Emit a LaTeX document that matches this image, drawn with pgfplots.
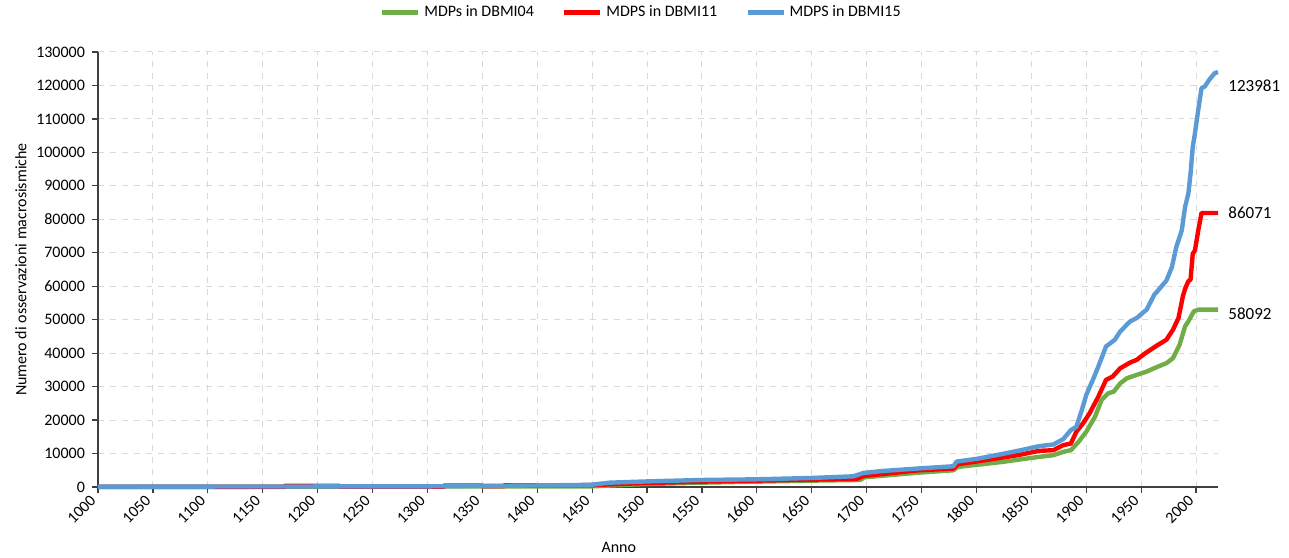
\documentclass[border=0pt]{standalone}
\usepackage{pgfplots}
\pgfplotsset{compat=1.18}
\usepackage{fontspec}
\setmainfont{Carlito}
\definecolor{cgreen}{HTML}{70AD47}
\definecolor{cred}{HTML}{FF0000}
\definecolor{cblue}{HTML}{5B9BD5}
\definecolor{cgrid}{HTML}{D9D9D9}
\definecolor{caxis}{HTML}{404040}
\begin{document}
\begin{tikzpicture}
\begin{axis}[
  scale only axis,
  width=560pt, height=217.5pt,
  xmin=1000, xmax=2020, ymin=0, ymax=130000,
  xtick={1000,1050,...,2000},
  ytick={0,10000,...,130000},
  scaled x ticks=false,
  scaled y ticks=false,
  axis lines*=left,
  axis line style={caxis, line width=0.8pt},
  tick align=outside, tick pos=left,
  major tick length=3pt,
  tick style={caxis, line width=0.6pt},
  grid=major,
  major grid style={cgrid, dashed, line width=0.5pt},
  font=\fontsize{8}{9}\selectfont,
  /pgf/number format/.cd, fixed, precision=0, 1000 sep={}, assume math mode=true,
  /pgfplots/.cd,
  xticklabel style={rotate=45, anchor=east, font=\fontsize{8}{9}\selectfont},
  yticklabel style={font=\fontsize{8}{9}\selectfont},
  xlabel={Anno},
  ylabel={Numero di osservazioni macrosismiche},
  xlabel style={at={(rel axis cs:0.465,0)}, anchor=north, yshift=-24pt},
  ylabel style={yshift=-2pt},
  legend style={at={(rel axis cs:0.486,1)}, anchor=south, yshift=12pt, draw=none, legend columns=3, font=\fontsize{8}{9}\selectfont, /tikz/every even column/.append style={column sep=12pt}},
  legend image code/.code={\draw[#1, line width=2.2pt] (0pt,0pt) -- (18pt,0pt);},
  clip=false,
]
\addplot[cgreen, line width=2.2pt, line join=round] coordinates {
(1000,0) (1450,200) (1500,900) (1550,1300) (1600,1600) (1650,1900)
(1694,2100) (1698,2900) (1748,4300) (1779,5000) (1783,6000) (1824,7500)
(1839,8200) (1857,9000) (1870,9500) (1879,10500) (1886,11000) (1893,13500)
(1900,16500) (1908,21000) (1914,26000) (1920,28000) (1925,28500) (1931,31000)
(1937,32500) (1946,33500) (1955,34500) (1964,35800) (1973,37000) (1979,38500)
(1985,42500) (1990,48000) (1993,49500) (1998,52500) (2002,53000) (2020,53000)
};
\addlegendentry{MDPs in DBMI04}
\addplot[cred, line width=2.2pt, line join=round] coordinates {
(1000,50) (1170,50) (1170,350) (1220,350) (1220,100) (1315,100) (1315,400)
(1350,400) (1350,250) (1370,250) (1370,500) (1400,500) (1450,550)
(1460,700) (1500,1200) (1550,1600) (1600,1900) (1650,2200) (1691,2400)
(1697,3300) (1748,5000) (1779,5500) (1783,6800) (1824,8800) (1839,9600)
(1857,10800) (1870,11000) (1879,12500) (1886,13000) (1891,16500) (1897,19000)
(1903,22000) (1911,27000) (1918,32000) (1924,33000) (1931,35500) (1940,37200)
(1946,38000) (1953,39800) (1964,42200) (1973,44000) (1979,47000) (1984,50500)
(1988,57000) (1990,59200) (1993,61500) (1995,62000) (1997,69700) (1999,70700)
(2002,76700) (2005,81900) (2020,81900)
};
\addlegendentry{MDPS in DBMI11}
\addplot[cblue, line width=2.2pt, line join=round] coordinates {
(1000,100) (1300,200) (1380,400) (1440,600) (1450,700) (1466,1300) (1503,1700)
(1550,2100) (1600,2300) (1650,2700) (1688,3200) (1697,4200) (1715,4800)
(1750,5600) (1779,6200) (1782,7600) (1800,8400) (1824,9900) (1839,10900)
(1857,12200) (1870,12700) (1879,14300) (1886,17000) (1891,18000) (1896,23000)
(1900,27500) (1906,32000) (1911,36000) (1918,42000) (1926,44000) (1931,46500)
(1940,49500) (1946,50500) (1952,52200) (1955,53000) (1962,57500) (1964,58200)
(1973,61700) (1978,65700) (1982,71700) (1987,76700) (1990,83700) (1993,87700)
(1995,93700) (1997,101700) (1999,105700) (2002,112700) (2005,119200) (2008,119700)
(2012,121700) (2017,123700) (2020,124000)
};
\addlegendentry{MDPS in DBMI15}
\node[anchor=west, font=\fontsize{8.5}{10}\selectfont, inner sep=0pt] at (axis cs:2020,120000) {\hspace{5pt}123981};
\node[anchor=west, font=\fontsize{8.5}{10}\selectfont, inner sep=0pt] at (axis cs:2020,81900) {\hspace{5pt}86071};
\node[anchor=west, font=\fontsize{8.5}{10}\selectfont, inner sep=0pt] at (axis cs:2020,51700) {\hspace{5pt}58092};
\end{axis}
\pgfresetboundingbox
\path (current axis.south west) ++(-49pt,-35pt) rectangle ++(644.5pt,278.5pt);
\end{tikzpicture}
\end{document}
